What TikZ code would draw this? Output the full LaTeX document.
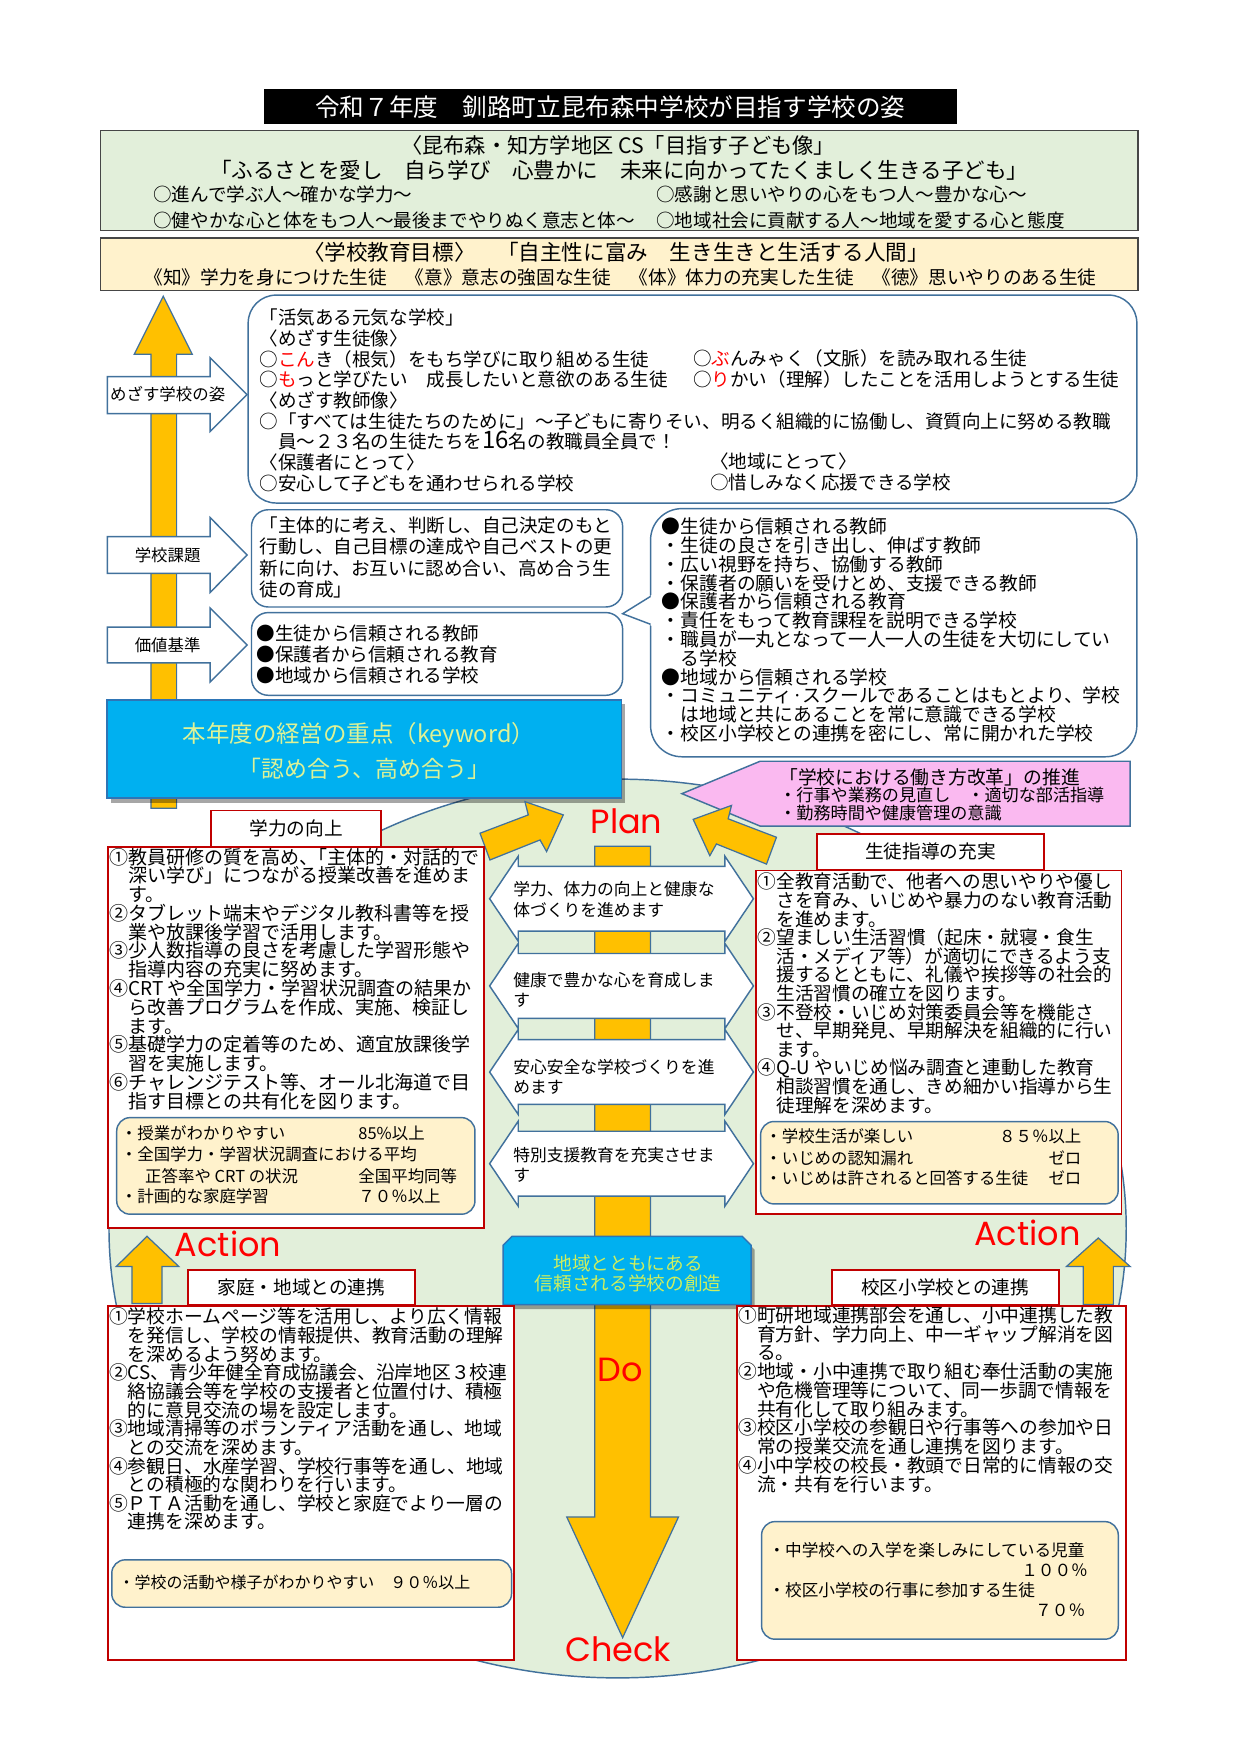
\documentclass[tikz,border=0pt]{standalone}
\usepackage{fontspec}
\setmainfont{Noto Sans CJK JP}
\newfontfamily\pdcafont{Poppins}
\usetikzlibrary{shadows}
\lineskiplimit=-100pt
\lineskip=0pt
\definecolor{orng}{RGB}{255,192,0}
\definecolor{bluel}{RGB}{65,113,156}
\definecolor{lgreen}{RGB}{226,239,218}
\definecolor{lyellow}{RGB}{255,242,204}
\definecolor{redl}{RGB}{192,0,0}
\definecolor{cyanbox}{RGB}{0,176,240}
\definecolor{kwline}{RGB}{46,117,182}
\definecolor{kwtext}{RGB}{222,242,150}
\definecolor{kwtextb}{RGB}{205,238,95}
\definecolor{pinkc}{RGB}{250,185,240}
\definecolor{hdrline}{RGB}{70,70,70}
\definecolor{redtxt}{RGB}{255,0,0}
\newcommand{\txL}[6][]{\node[anchor=base west,inner sep=0pt,font=\fontsize{#5}{#5}\selectfont,#1] (#2) at (#3,{#4+0.38*#5}) {#6};}
\newcommand{\txC}[6][]{\node[anchor=base,inner sep=0pt,font=\fontsize{#5}{#5}\selectfont,#1] (#2) at (#3,{#4+0.38*#5}) {#6};}
\newcommand{\txR}[6][]{\node[anchor=base east,inner sep=0pt,font=\fontsize{#5}{#5}\selectfont,#1] (#2) at (#3,{#4+0.38*#5}) {#6};}
\newcommand{\txB}[6]{\node[anchor=north west,inner sep=0pt,align=left,font=\fontsize{#4}{#5}\selectfont] (#1) at (#2,{#3-0.62*#4}) {\rule{0pt}{1em}#6};}
\tikzset{
 bline/.style={draw=bluel,line width=1.3},
 orarrow/.style={draw=bluel,fill=orng,line width=1.1},
 sign/.style={draw=bluel,fill=white,line width=1.3},
 redbox/.style={draw=redl,fill=white,line width=1.6},
 ybox/.style={draw=bluel,fill=lyellow,line width=1.3,rounded corners=12},
 pdca/.style={text=redtxt,font=\pdcafont\fontsize{30}{30}\selectfont,inner sep=0pt,anchor=base},
 shad/.style={drop shadow={shadow xshift=3pt,shadow yshift=-4pt,fill=black,opacity=0.35}},
}
\begin{document}
\begin{tikzpicture}[x=1pt,y=-1pt]
\useasboundingbox (0,0) rectangle (1110,1570);
\fill[white] (0,0) rectangle (1110,1570);

% ---------- title ----------
\fill[black] (236,80) rectangle (856,111);
\txC[text=white]{title}{546}{95.5}{22}{令和７年度　釧路町立昆布森中学校が目指す学校の姿}

% ---------- green header ----------
\draw[draw=hdrline,fill=lgreen,line width=1.2] (90,117) rectangle (1018,206);
\txC{g1}{553}{130}{19}{〈昆布森・知方学地区 CS「目指す子ども像」}
\txC{g2}{554}{152}{19.3}{「ふるさとを愛し　自ら学び　心豊かに　未来に向かってたくましく生きる子ども」}
\txL{g3}{137}{174}{16.6}{○進んで学ぶ人～確かな学力～}
\txL{g4}{587}{174}{16.6}{○感謝と思いやりの心をもつ人～豊かな心～}
\txL{g5}{137}{197}{16.6}{○健やかな心と体をもつ人～最後までやりぬく意志と体～}
\txL{g6}{587}{197}{16.6}{○地域社会に貢献する人～地域を愛する心と態度}

% ---------- yellow header ----------
\draw[draw=hdrline,fill=lyellow,line width=1.2] (90,213) rectangle (1018,260);
\txC{y1}{551}{226}{19.3}{〈学校教育目標〉　「自主性に富み　生き生きと生活する人間」}
\txC{y2}{555}{248}{16.7}{《知》学力を身につけた生徒　《意》意志の強固な生徒　《体》体力の充実した生徒　《徳》思いやりのある生徒}

% ---------- big PDCA ellipse ----------
\draw[bline,fill=lgreen] (552.5,1099) ellipse [x radius=455, y radius=402];

% ---------- left vertical arrow ----------
\draw[orarrow] (135,723) -- (135,317) -- (120,317) -- (146,265) -- (172,317) -- (158,317) -- (158,723) -- cycle;

% ---------- sign arrows ----------
\draw[sign] (96,337) -- (188,337) -- (188,320) -- (221,353) -- (188,386) -- (188,370) -- (96,370) -- cycle;
\draw[sign] (96,480) -- (188,480) -- (188,463) -- (221,496.5) -- (188,530) -- (188,513) -- (96,513) -- cycle;
\draw[sign] (96,561) -- (188,561) -- (188,544) -- (221,577) -- (188,610) -- (188,593) -- (96,593) -- cycle;
\txC{s1}{150}{353}{14.7}{めざす学校の姿}
\txC{s2}{150}{496.5}{14.7}{学校課題}
\txC{s3}{150}{577}{14.7}{価値基準}

% ---------- box 1 ----------
\draw[bline,fill=white,rounded corners=25] (222,264) rectangle (1017,450);
\txB{b1}{232}{284}{16.6}{18.5}{「活気ある元気な学校」\\
〈めざす生徒像〉\\
○{\color{redtxt}こん}き（根気）をもち学びに取り組める生徒\\
○{\color{redtxt}も}っと学びたい　成長したいと意欲のある生徒\\
〈めざす教師像〉\\
○「すべては生徒たちのために」～子どもに寄りそい、明るく組織的に協働し、資質向上に努める教職\\
　員～２３名の生徒たちを{\fontsize{21.5}{18.5}\selectfont 16}名の教職員全員で！\\
〈保護者にとって〉\\
○安心して子どもを通わせられる学校}
\txL{b1r1}{620}{321}{16.6}{○{\color{redtxt}ぶ}んみゃく（文脈）を読み取れる生徒}
\txL{b1r2}{620}{339.5}{16.6}{○{\color{redtxt}り}かい（理解）したことを活用しようとする生徒}
\txL{b1r3}{635}{413}{16.6}{〈地域にとって〉}
\txL{b1r4}{635}{432}{16.6}{○惜しみなく応援できる学校}

% ---------- box 2 / box 3 ----------
\draw[bline,fill=white,rounded corners=15] (225,456) rectangle (557,543);
\txB{b2}{232}{470}{16.6}{19}{「主体的に考え、判断し、自己決定のもと\\
行動し、自己目標の達成や自己ベストの更\\
新に向け、お互いに認め合い、高め合う生\\
徒の育成」}
\draw[bline,fill=white,rounded corners=15] (225,548) rectangle (557,622);
\txB{b3}{229.6}{566.5}{16.6}{18.7}{●生徒から信頼される教師\\
●保護者から信頼される教育\\
●地域から信頼される学校}

% ---------- right callout ----------
\draw[bline,fill=white,rounded corners=28] (582,455) rectangle (1017,677);
\fill[white] (583.5,532) -- (557,549) -- (583.5,560) -- cycle;
\draw[bline] (582,533.5) -- (557,549) -- (582,558.5);
\txB{b4}{592}{471}{16.8}{16.8}{●生徒から信頼される教師\\
・生徒の良さを引き出し、伸ばす教師\\
・広い視野を持ち、協働する教師\\
・保護者の願いを受けとめ、支援できる教師\\
●保護者から信頼される教育\\
・責任をもって教育課程を説明できる学校\\
・職員が一丸となって一人一人の生徒を大切にしてい\\
　る学校\\
●地域から信頼される学校\\
・コミュニティ·スクールであることはもとより、学校\\
　は地域と共にあることを常に意識できる学校\\
・校区小学校との連携を密にし、常に開かれた学校}

% ---------- keyword box ----------
\draw[draw=kwline,fill=cyanbox,line width=1.5,shad] (96,626) rectangle (556,714);
\txC[text=kwtext]{k1}{321}{656}{21}{本年度の経営の重点（keyword）}
\txC[text=kwtext]{k2}{326}{687.3}{20.5}{「認め合う、高め合う」}

% ---------- pink callout ----------
\draw[bline,fill=pinkc] (610,710) -- (680,681) -- (1011,681) -- (1011,739) -- (680,739) -- cycle;
\txL{p1}{697}{695}{16.8}{「学校における働き方改革」の推進}
\txL{p2}{697}{711}{15.3}{・行事や業務の見直し　・適切な部活指導}
\txL{p3}{697}{727.5}{15.3}{・勤務時間や健康管理の意識}

% ---------- plan arrows ----------
\draw[orarrow] (438.3,769.3) -- (429.4,745.4) -- (472.6,729) -- (469.6,717.1) -- (503.9,729) -- (489,761.8) -- (483.1,751.4) -- cycle;
\draw[orarrow] (685.7,773) -- (694.6,749) -- (651.4,732.5) -- (654.4,720.5) -- (620.1,733) -- (635,765.5) -- (640.9,755) -- cycle;
\node[pdca] (plan) at (560.5,745.4) {Plan};

% ---------- central arrow (Do) ----------
\draw[orarrow] (532,757) -- (582,757) -- (582,1357) -- (607,1357) -- (557,1465) -- (507,1357) -- (532,1357) -- cycle;

% ---------- banners ----------
\foreach \bt/\bb in {775/833, 853/911, 930/988, 1012/1070} {
  \draw[sign] (438,{(\bt+\bb)/2}) -- (463.6,{\bt-9}) -- (463.6,\bt) -- (648.5,\bt) -- (648.5,{\bt-9})
    -- (674,{(\bt+\bb)/2}) -- (648.5,{\bb+9}) -- (648.5,\bb) -- (463.6,\bb) -- (463.6,{\bb+9}) -- cycle;
}
\txB{bn1}{459}{795}{15}{19}{学力、体力の向上と健康な\\体づくりを進めます}
\txB{bn2}{459}{876.5}{15}{18}{健康で豊かな心を育成しま\\す}
\txB{bn3}{459}{954}{15}{18}{安心安全な学校づくりを進\\めます}
\txB{bn4}{459}{1033}{15}{18}{特別支援教育を充実させま\\す}

% ---------- lower blue box ----------
\draw[draw=kwline,fill=cyanbox,line width=1.3,shad] (450,1167) -- (450,1114) -- (458,1106) -- (664,1106) -- (672,1114) -- (672,1167) -- cycle;
\txC[text=kwtextb]{c1}{562}{1130}{16.7}{地域とともにある}
\txC[text=kwtextb]{c2}{562}{1148}{16.7}{信頼される学校の創造}
\node[pdca] (do) at (554.6,1236) {Do};
\node[pdca] (check) at (553,1486.5) {Check};

% ---------- 学力の向上 ----------
\draw[redbox] (96.3,758) rectangle (433,1098.8);
\draw[redbox] (188.5,725) rectangle (341,757.4);
\txC{gakuL}{265}{741}{16.7}{学力の向上}
\txB{gakuT}{97.5}{766.3}{17}{16.8}{①教員研修の質を高め、\kern-0.5em「主体的・対話的で\\
　深い学び」につながる授業改善を進めま\\
　す。\\
②タブレット端末やデジタル教科書等を授\\
　業や放課後学習で活用します。\\
③少人数指導の良さを考慮した学習形態や\\
　指導内容の充実に努めます。\\
④CRT や全国学力・学習状況調査の結果か\\
　ら改善プログラムを作成、実施、検証し\\
　ます。\\
⑤基礎学力の定着等のため、適宜放課後学\\
　習を実施します。\\
⑥チャレンジテスト等、オール北海道で目\\
　指す目標との共有化を図ります。}
\draw[ybox] (104.4,999.8) rectangle (424.9,1086.2);
\txL{a1}{108}{1013.7}{14.7}{・授業がわかりやすい}
\txL{a1v}{320.5}{1013.7}{14.7}{85\%以上}
\txL{a2}{108}{1032.5}{14.7}{・全国学力・学習状況調査における平均}
\txL{a3}{129.7}{1051.9}{14.7}{正答率や CRT の状況}
\txL{a3v}{320.5}{1051.9}{14.7}{全国平均同等}
\txL{a4}{108}{1070.4}{14.7}{・計画的な家庭学習}
\txL{a4v}{320.5}{1070.4}{14.7}{７０％以上}

% ---------- 生徒指導の充実 ----------
\draw[redbox] (676.2,778.8) rectangle (1003.3,1086);
\draw[redbox] (731,746) rectangle (934,778.2);
\txC{seiL}{832.5}{762}{16.7}{生徒指導の充実}
\txB{seiT}{677.8}{788.6}{16.7}{16.65}{①全教育活動で、他者への思いやりや優し\\
　さを育み、いじめや暴力のない教育活動\\
　を進めます。\\
②望ましい生活習慣（起床・就寝・食生\\
　活・メディア等）が適切にできるよう支\\
　援するとともに、礼儀や挨拶等の社会的\\
　生活習慣の確立を図ります。\\
③不登校・いじめ対策委員会等を機能さ\\
　せ、早期発見、早期解決を組織的に行い\\
　ます。\\
④Q-U やいじめ悩み調査と連動した教育\\
　相談習慣を通し、きめ細かい指導から生\\
　徒理解を深めます。}
\draw[ybox] (680.4,1003.3) rectangle (1000.3,1077);
\txL{sb1}{684.5}{1016.7}{14.7}{・学校生活が楽しい}
\txR{sb1v}{967.6}{1016.7}{14.7}{８５％以上}
\txL{sb2}{684.5}{1036.1}{14.7}{・いじめの認知漏れ}
\txR{sb2v}{967.6}{1036.1}{14.7}{ゼロ}
\txL{sb3}{684.5}{1054}{14.7}{・いじめは許されると回答する生徒}
\txR{sb3v}{967.6}{1054}{14.7}{ゼロ}

% ---------- Action arrows ----------
\draw[orarrow] (118,1166) -- (118,1133) -- (104,1133) -- (131.5,1106) -- (160,1133) -- (145,1133) -- (145,1166) -- cycle;
\draw[orarrow] (969,1167) -- (969,1133) -- (954,1133) -- (982.5,1107.5) -- (1011,1133) -- (996,1133) -- (996,1167) -- cycle;
\node[pdca] (act1) at (204,1124) {Action};
\node[pdca] (act2) at (919,1114.5) {Action};

% ---------- 家庭・地域との連携 ----------
\draw[redbox] (96.3,1168.2) rectangle (460,1484.9);
\draw[redbox] (168,1136) rectangle (371,1167.3);
\txC{kateiL}{269.5}{1151.5}{16.7}{家庭・地域との連携}
\txB{kateiT}{97.5}{1177.8}{16.8}{16.67}{①学校ホームページ等を活用し、より広く情報\\
　を発信し、学校の情報提供、教育活動の理解\\
　を深めるよう努めます。\\
②CS、青少年健全育成協議会、沿岸地区３校連\\
　絡協議会等を学校の支援者と位置付け、積極\\
　的に意見交流の場を設定します。\\
③地域清掃等のボランティア活動を通し、地域\\
　との交流を深めます。\\
④参観日、水産学習、学校行事等を通し、地域\\
　との積極的な関わりを行います。\\
⑤ＰＴＡ活動を通し、学校と家庭でより一層の\\
　連携を深めます。}
\draw[ybox] (100,1395.4) rectangle (457.6,1437.8);
\txL{d1}{106}{1416}{14.3}{・学校の活動や様子がわかりやすい　９０％以上}

% ---------- 校区小学校との連携 ----------
\draw[redbox] (659.5,1168.2) rectangle (1007.2,1484.9);
\draw[redbox] (744,1136) rectangle (947,1167.3);
\txC{kouL}{845.5}{1151.5}{16.7}{校区小学校との連携}
\txB{kouT}{660.4}{1176.3}{16.77}{16.8}{①町研地域連携部会を通し、小中連携した教\\
　育方針、学力向上、中一ギャップ解消を図\\
　る。\\
②地域・小中連携で取り組む奉仕活動の実施\\
　や危機管理等について、同一歩調で情報を\\
　共有化して取り組みます。\\
③校区小学校の参観日や行事等への参加や日\\
　常の授業交流を通し連携を図ります。\\
④小中学校の校長・教頭で日常的に情報の交\\
　流・共有を行います。}
\draw[ybox] (681.3,1361.2) rectangle (1000.4,1466.4);
\txL{e1}{687.3}{1386.5}{14.9}{・中学校への入学を楽しみにしている児童}
\txR{e2}{973.4}{1404.4}{14.9}{１００％}
\txL{e3}{687.3}{1422.3}{14.9}{・校区小学校の行事に参加する生徒}
\txR{e4}{971}{1440.8}{14.9}{７０％}
\end{tikzpicture}
\end{document}
